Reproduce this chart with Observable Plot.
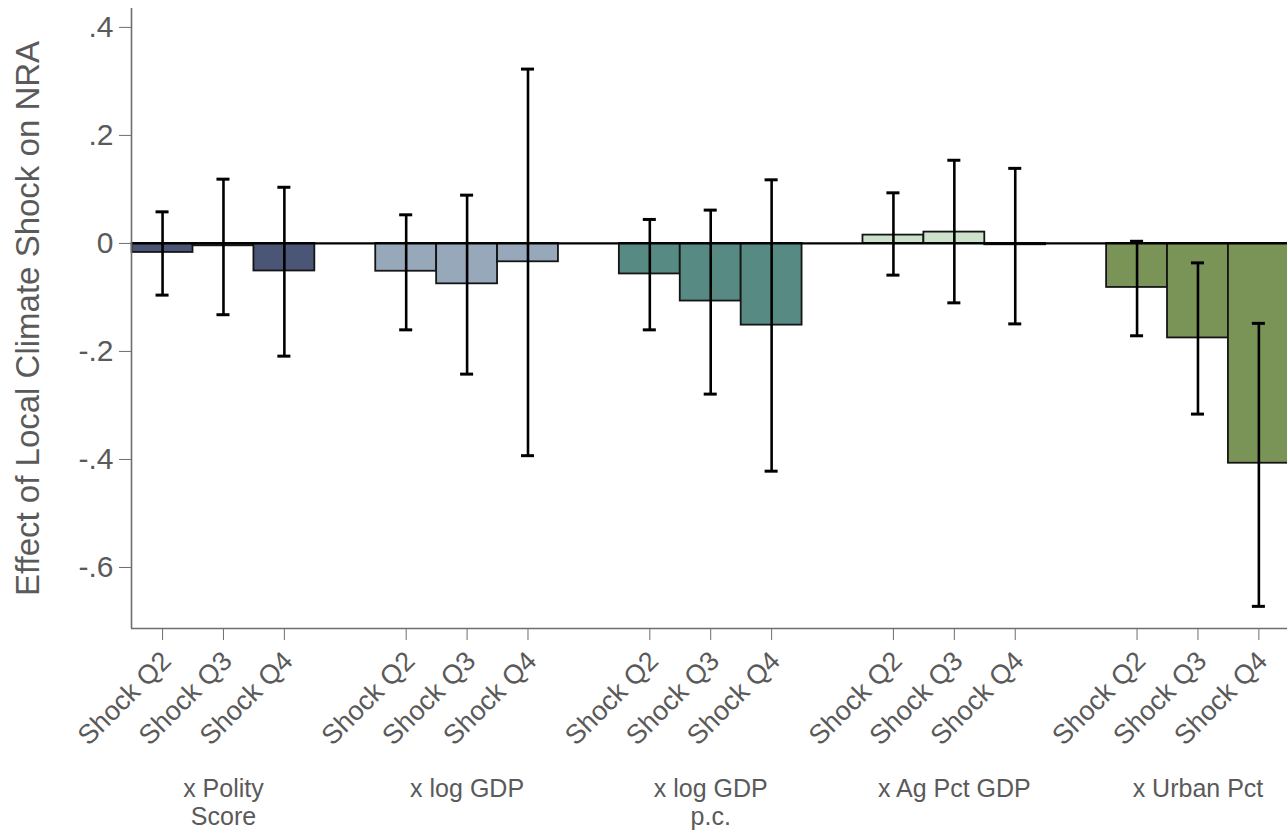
<!DOCTYPE html>
<html>
<head>
<meta charset="utf-8">
<script src="https://cdn.jsdelivr.net/npm/d3@7"></script>
<script src="https://cdn.jsdelivr.net/npm/@observablehq/plot@0.6"></script>
<style>
  html, body { margin: 0; padding: 0; background: #fff; }
  #chart svg { display: block; }
</style>
</head>
<body>
<div id="chart"></div>
<script>
// ---- data ----
const groups = ["x Polity\nScore", "x log GDP", "x log GDP\np.c.", "x Ag Pct GDP", "x Urban Pct"];
const shocks = ["Shock Q2", "Shock Q3", "Shock Q4"];
const groupColors = ["#4b5575", "#97a8bb", "#588a84", "#cde2cb", "#7a9357"];
// point estimates (group-major: Q2, Q3, Q4 for each group)
const estimates = [-0.0167, -0.0044, -0.0510,
                   -0.0515, -0.0748, -0.0340,
                   -0.0565, -0.1067, -0.1513,
                    0.0154,  0.0210, -0.0025,
                   -0.0815, -0.1750, -0.4070];
const ciLow  = [-0.0957, -0.1320, -0.2087,
                -0.1600, -0.2420, -0.3930,
                -0.1600, -0.2790, -0.4217,
                -0.0587, -0.1100, -0.1490,
                -0.1710, -0.3160, -0.6720];
const ciHigh = [ 0.0585,  0.1190,  0.1040,
                 0.0530,  0.0894,  0.3228,
                 0.0444,  0.0617,  0.1178,
                 0.0937,  0.1540,  0.1390,
                 0.0040, -0.0360, -0.1480];
const yTicks = [0.4, 0.2, 0, -0.2, -0.4, -0.6];
const yTickLabels = [".4", ".2", "0", "-.2", "-.4", "-.6"];
const yTitle = "Effect of Local Climate Shock on NRA";

// ---- table ----
const slotsPerGroup = shocks.length + 1;
const rows = estimates.map((v, i) => {
  const g = Math.floor(i / shocks.length), s = i % shocks.length;
  return {pos: g * slotsPerGroup + s, group: groups[g], shock: shocks[s],
          value: v, lo: ciLow[i], hi: ciHigh[i], color: groupColors[g]};
});
const groupRows = groups.map((g, i) => ({label: g, pos: i * slotsPerGroup + 1}));
const tickPositions = rows.map(d => d.pos);
const tickLabel = p => rows.find(d => d.pos === p).shock;

const xDomain = [-0.51, 18.47];
const yDomain = [-0.713, 0.435];
const capHalf = 0.107;
const textColor = "#5a5a5a";
const axisColor = "#6e6e6e";

const chart = Plot.plot({
  width: 1287,
  height: 832,
  marginLeft: 131,
  marginRight: 0,
  marginTop: 8,
  marginBottom: 204,
  style: {fontFamily: "'Liberation Sans', Arial, Helvetica, sans-serif", background: "#fff"},
  x: {type: "linear", domain: xDomain},
  y: {domain: yDomain},
  marks: [
    Plot.rectY(rows, {x1: d => d.pos - 0.5, x2: d => d.pos + 0.5, y1: 0, y2: "value",
      fill: "color", stroke: "#151515", strokeWidth: 1.8}),
    Plot.ruleY([0], {stroke: "#000", strokeWidth: 2.2}),
    Plot.ruleX(rows, {x: "pos", y1: "lo", y2: "hi", stroke: "#000", strokeWidth: 2.6}),
    Plot.ruleY(rows, {y: "lo", x1: d => d.pos - capHalf, x2: d => d.pos + capHalf, stroke: "#000", strokeWidth: 3}),
    Plot.ruleY(rows, {y: "hi", x1: d => d.pos - capHalf, x2: d => d.pos + capHalf, stroke: "#000", strokeWidth: 3}),
    Plot.ruleX([xDomain[0]], {stroke: axisColor, strokeWidth: 1.6}),
    Plot.ruleY([yDomain[0]], {stroke: axisColor, strokeWidth: 1.6}),
    Plot.axisY({ticks: yTicks, tickFormat: d => yTickLabels[yTicks.indexOf(d)],
      tickSize: 12, tickPadding: 6, fontSize: 30, stroke: axisColor, fill: textColor, label: null}),
    // tick lines only
    Plot.axisX({ticks: tickPositions, tickFormat: () => "", tickSize: 12,
      stroke: axisColor, label: null}),
    // rotated tick labels only
    Plot.axisX({ticks: tickPositions, tickFormat: tickLabel, tickSize: 0, tickPadding: 16,
      tickRotate: -45, fontSize: 27, dx: 4, dy: 12, fill: textColor, label: null}),
    Plot.text(groupRows, {x: "pos", text: "label", frameAnchor: "bottom", lineAnchor: "top",
      dy: 149, fontSize: 25, lineHeight: 1.12, fill: textColor}),
    Plot.text([yTitle], {frameAnchor: "left", text: d => d, rotate: -90, dx: -103,
      textAnchor: "middle", fontSize: 33, fill: textColor})
  ]
});
document.getElementById("chart").appendChild(chart);
</script>
</body>
</html>
